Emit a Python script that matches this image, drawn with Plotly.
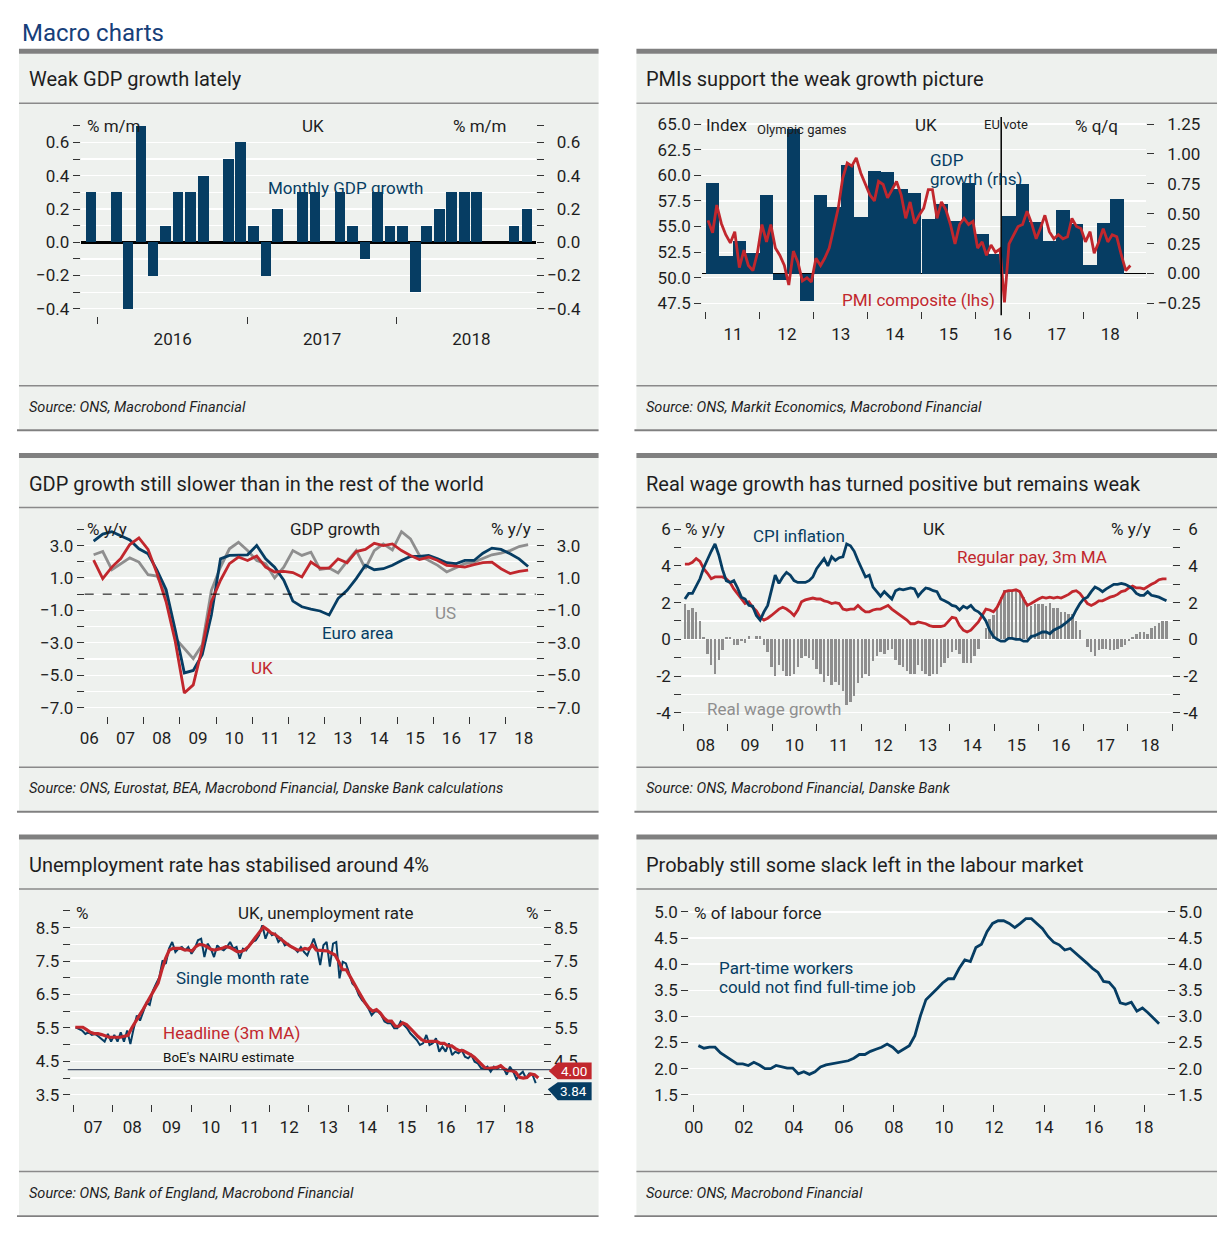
import pandas as pd
import plotly.graph_objects as go

# Reference canvas is 1229x1240; the page keeps the browser's default 8px body margin,
# so the figure itself is 16px smaller and all reference pixel positions shift by 8.
PAGE_W, PAGE_H = 1229, 1240
OFF = 8
W, H = PAGE_W - 2 * OFF, PAGE_H - 2 * OFF
FONT = "Roboto"
NAVY = "#063d63"
RED = "#c1272d"
GREY = "#8e8e8e"
BG = "#eef1ee"
FRAME = "#808080"
TXT = "#1e1e1e"
DAY_MS = 86400000

# ---------------- Panel 1: monthly GDP ----------------
gdp_mm_first_month = "2015-12-01"
gdp_mm = [0.3, 0.0, 0.3, -0.4, 0.7, -0.2, 0.1, 0.3, 0.3, 0.4, 0.0, 0.5,
          0.6, 0.1, -0.2, 0.2, 0.0, 0.3, 0.3, 0.0, 0.3, 0.1, -0.1, 0.3,
          0.1, 0.1, -0.3, 0.1, 0.2, 0.3, 0.3, 0.3, 0.0, 0.0, 0.1, 0.2]

# ---------------- Panel 2: PMI and GDP q/q ----------------
gdp_qq_first_quarter = "2011-01-01"
gdp_qq = [0.76, 0.15, 0.27, 0.17, 0.66, -0.05, 1.21, -0.23, 0.66, 0.56, 0.91, 0.47,
          0.86, 0.85, 0.71, 0.67, 0.46, 0.58, 0.44, 0.76, 0.33, 0.16, 0.48, 0.75,
          0.43, 0.27, 0.53, 0.41, 0.07, 0.42, 0.62]
pmi_first_month = "2011-01-01"
pmi_composite = [55.6, 54.4, 57.1, 55.3, 54.2, 53.4, 54.5, 51.0, 52.7, 51.2, 50.7, 52.4,
                 55.2, 53.5, 55.2, 52.9, 52.2, 51.2, 49.3, 52.6, 51.5, 49.7, 50.0, 49.6,
                 51.9, 51.2, 51.9, 52.9, 54.8, 56.8, 59.7, 61.2, 60.9, 61.7, 60.2, 59.1,
                 58.1, 57.5, 59.4, 59.1, 57.8, 58.6, 59.4, 58.1, 55.8, 57.4, 55.3, 56.1,
                 56.8, 58.6, 58.6, 55.8, 57.4, 56.6, 55.2, 53.3, 55.2, 55.8, 55.2, 55.5,
                 52.9, 53.5, 52.2, 53.2, 52.5, 52.8, 47.6, 53.3, 54.2, 55.0, 55.2, 56.5,
                 55.3, 53.8, 54.8, 56.1, 54.5, 53.8, 54.2, 53.8, 54.0, 55.8, 55.0, 54.8,
                 53.5, 54.5, 52.4, 53.5, 54.8, 53.5, 54.2, 54.0, 52.2, 50.7, 51.2]
eu_vote_date = "2016-06-23"

# ---------------- Panel 3: GDP y/y ----------------
gdp_yy_first_quarter = "2006-07-01"
gdp_yy_uk = [2.1, 0.96, 1.67, 2.2, 3.06, 3.47, 2.76, 1.27, -0.47, -2.9, -6.1, -5.6,
             -3.3, -0.47, 0.86, 1.88, 2.29, 2.08, 2.35, 1.67, 1.37, 1.41, 1.33, 1.06,
             1.98, 1.61, 1.61, 2.18, 1.94, 2.63, 2.76, 3.14, 3.0, 3.1, 2.69, 2.39,
             2.14, 2.29, 2.08, 1.78, 1.73, 1.67, 1.82, 1.94, 1.98, 1.57, 1.27, 1.41, 1.49]
gdp_yy_ea = [3.27, 3.71, 3.86, 3.61, 3.35, 2.8, 2.49, 1.47, 0.29, -2.2, -4.86, -4.71,
             -3.73, -1.29, 2.18, 2.39, 2.43, 2.43, 3.0, 2.18, 1.67, 0.86, -0.43, -0.78,
             -0.92, -1.04, -1.29, -0.27, 0.24, 0.96, 1.78, 1.51, 1.57, 1.78, 2.08, 2.33,
             2.33, 2.39, 2.18, 1.94, 1.88, 2.08, 2.08, 2.53, 2.84, 2.76, 2.49, 2.18, 1.71]
gdp_yy_us = [2.43, 2.63, 1.51, 1.88, 2.24, 1.98, 1.2, 1.12, 0.04, -2.71, -3.33, -3.98,
             -3.12, 0.24, 1.67, 2.8, 3.2, 2.69, 2.08, 1.88, 1.0, 1.67, 2.69, 2.39,
             2.59, 1.53, 1.61, 1.31, 2.02, 2.69, 1.57, 2.69, 3.1, 2.73, 3.86, 3.41,
             2.39, 2.08, 1.78, 1.37, 1.61, 1.88, 1.98, 2.2, 2.43, 2.53, 2.69, 2.94, 3.06]

# ---------------- Panel 4: wages and inflation ----------------
wage_first, wage_last = "2008-01-15", "2018-11-15"
cpi_inflation = [2.2, 2.5, 2.5, 2.9, 3.3, 3.9, 4.4, 4.8, 5.2, 4.6,
                 3.8, 3.2, 3.1, 3.2, 2.8, 2.3, 2.2, 1.85, 1.8, 1.3,
                 1.05, 1.5, 1.85, 2.75, 3.5, 3.05, 3.4, 3.65, 3.5, 3.2,
                 3.1, 3.1, 3.1, 3.2, 3.4, 3.85, 4.1, 4.4, 4.0, 4.5,
                 4.3, 4.45, 4.5, 5.2, 5.1, 4.8, 4.3, 3.8, 3.4, 3.5,
                 2.85, 2.6, 2.35, 2.6, 2.4, 2.2, 2.65, 2.75, 2.7, 2.75,
                 2.8, 2.75, 2.35, 2.6, 2.8, 2.75, 2.65, 2.6, 2.2, 2.1,
                 2.0, 1.85, 1.8, 1.6, 1.8, 1.7, 1.85, 1.6, 1.5, 1.3,
                 1.0, 0.5, 0.15, 0.0, -0.1, -0.1, 0.05, 0.05, 0.0, 0.0,
                 -0.1, -0.1, 0.15, 0.2, 0.3, 0.4, 0.4, 0.3, 0.5, 0.6,
                 0.7, 0.85, 1.0, 1.2, 1.6, 1.95, 2.2, 2.3, 2.6, 2.85,
                 2.75, 2.6, 2.75, 2.9, 3.0, 3.0, 3.05, 3.0, 2.9, 2.75,
                 2.5, 2.4, 2.4, 2.6, 2.4, 2.35, 2.3, 2.2, 2.1]
regular_pay_3m = [4.1, 4.1, 4.2, 4.4, 4.25, 3.85, 3.6, 3.3, 3.4, 3.4,
                  3.4, 3.3, 3.1, 2.75, 2.5, 2.2, 1.95, 2.05, 1.75, 1.55,
                  1.2, 1.05, 1.15, 1.3, 1.5, 1.65, 1.75, 1.65, 1.5, 1.3,
                  1.6, 2.05, 2.15, 2.2, 2.25, 2.2, 2.2, 2.1, 2.05, 1.95,
                  2.0, 1.95, 1.65, 1.6, 1.65, 1.65, 1.85, 1.65, 1.5, 1.5,
                  1.6, 1.65, 1.65, 1.75, 1.85, 1.65, 1.5, 1.3, 1.2, 1.05,
                  0.85, 0.85, 0.95, 0.9, 0.85, 0.75, 0.7, 0.7, 0.7, 0.75,
                  0.95, 1.2, 1.15, 0.75, 0.5, 0.4, 0.5, 0.7, 0.95, 1.3,
                  1.65, 1.6, 1.5, 1.75, 2.2, 2.6, 2.65, 2.65, 2.7, 2.6,
                  2.2, 1.85, 1.95, 2.1, 2.2, 2.3, 2.25, 2.3, 2.25, 2.3,
                  2.25, 2.35, 2.45, 2.6, 2.65, 2.5, 2.2, 1.95, 1.85, 1.95,
                  2.1, 2.1, 2.2, 2.3, 2.35, 2.45, 2.6, 2.65, 2.8, 2.9,
                  2.8, 2.8, 2.75, 2.9, 3.0, 3.1, 3.25, 3.3, 3.3]
real_wage_growth = [1.9, 1.6, 1.7, 1.5, 1.0, 0.1, -0.8, -1.4, -1.9, -1.1,
                    -0.6, 0.1, 0.1, -0.3, -0.3, -0.1, -0.2, 0.2, 0.0, 0.2,
                    0.2, -0.3, -0.7, -1.5, -2.0, -1.4, -1.7, -2.0, -2.0, -1.9,
                    -1.5, -1.0, -0.9, -1.0, -1.1, -1.6, -1.9, -2.3, -2.0, -2.5,
                    -2.3, -2.5, -2.8, -3.6, -3.4, -3.1, -2.4, -2.1, -1.9, -2.0,
                    -1.2, -0.9, -0.7, -0.8, -0.6, -0.5, -1.1, -1.4, -1.5, -1.7,
                    -1.9, -1.9, -1.4, -1.7, -1.9, -2.0, -1.9, -1.9, -1.5, -1.3,
                    -1.0, -0.7, -0.6, -0.8, -1.3, -1.3, -1.3, -0.9, -0.5, 0.0,
                    0.6, 1.1, 1.3, 1.7, 2.3, 2.7, 2.6, 2.6, 2.7, 2.6,
                    2.3, 1.9, 1.8, 1.9, 1.9, 1.9, 1.8, 2.0, 1.7, 1.7,
                    1.5, 1.5, 1.4, 1.4, 1.0, 0.5, 0.0, -0.4, -0.7, -0.9,
                    -0.6, -0.5, -0.5, -0.6, -0.6, -0.5, -0.4, -0.3, -0.1, 0.1,
                    0.3, 0.4, 0.4, 0.3, 0.6, 0.7, 0.9, 1.0, 1.0]

# ---------------- Panel 5: unemployment ----------------
single_first, single_last = "2007-01-22", "2018-10-15"
unemp_single_month = [5.52, 5.47, 5.42, 5.32, 5.37, 5.29, 5.32, 5.25, 5.17, 5.09,
                      5.32, 5.09, 5.29, 5.09, 5.37, 5.09, 5.42, 5.02, 5.47, 5.87,
                      5.72, 6.02, 6.25, 6.19, 6.62, 6.82, 7.02, 7.52, 7.42, 7.87,
                      8.07, 7.77, 7.87, 7.92, 7.82, 7.92, 7.72, 7.87, 8.12, 8.17,
                      7.62, 8.02, 7.87, 7.62, 7.97, 7.87, 7.82, 7.92, 8.07, 7.87,
                      7.92, 7.57, 7.87, 7.82, 7.97, 8.07, 8.12, 8.27, 8.57, 8.17,
                      8.42, 8.27, 8.32, 8.07, 8.17, 7.97, 8.02, 7.92, 7.87, 7.77,
                      7.92, 7.77, 7.67, 7.92, 8.17, 7.87,
                      7.38, 7.97, 8.07, 7.33, 8.02, 8.07, 6.98, 7.48, 7.43, 7.13,
                      6.83, 6.73, 6.48, 6.33, 6.23, 6.08, 5.88, 5.99, 5.99, 5.88,
                      5.69, 5.64, 5.64, 5.49, 5.49, 5.69, 5.59, 5.49, 5.34, 5.24,
                      5.14, 4.99, 5.04, 5.29, 4.99, 5.04, 5.19, 4.79, 4.94, 4.79,
                      5.04, 4.69, 4.79, 4.74, 4.84, 4.64, 4.59, 4.69, 4.49, 4.44,
                      4.30, 4.28, 4.34, 4.19, 4.34, 4.28, 4.34, 4.30, 4.10, 4.34,
                      4.19, 3.97, 4.10, 4.19, 3.99, 4.14, 4.10, 3.85]
headline_first, headline_last = "2007-01-18", "2018-11-08"
unemp_headline = [5.52, 5.52, 5.52, 5.45, 5.37, 5.33, 5.33, 5.30, 5.25, 5.22,
                  5.22, 5.22, 5.22, 5.25, 5.28, 5.50, 5.70, 5.87, 6.05, 6.25,
                  6.47, 6.64, 6.84, 7.24, 7.58, 7.83, 7.88, 7.88, 7.88, 7.83,
                  7.83, 7.80, 7.93, 8.00, 7.98, 7.93, 7.85, 7.83, 7.85, 7.88,
                  7.93, 7.91, 7.85, 7.78, 7.78, 7.83, 7.93, 8.08, 8.23, 8.38,
                  8.52, 8.44, 8.34, 8.30, 8.20, 8.12, 8.03, 7.95, 7.88, 7.83,
                  7.83, 7.88, 7.85, 7.98, 7.83, 7.83, 7.81, 7.80, 7.73, 7.68,
                  7.48, 7.24, 7.24, 7.02, 6.84, 6.64, 6.44, 6.25, 6.10, 6.00,
                  6.05, 5.95, 5.80, 5.70, 5.70, 5.55, 5.55, 5.65, 5.60, 5.47,
                  5.37, 5.25, 5.15, 5.10, 5.10, 5.10, 5.10, 5.04, 5.04, 4.96,
                  4.96, 4.88, 4.82, 4.82, 4.77, 4.70, 4.62, 4.52, 4.39, 4.29,
                  4.29, 4.30, 4.32, 4.37, 4.27, 4.22, 4.22, 4.17, 4.02, 4.00,
                  4.02, 4.12, 4.10, 4.00]
nairu_estimate = 4.25
latest_headline = 4.00
latest_single = 3.84

# ---------------- Panel 6: underemployment ----------------
under_first, under_last = "2000-03-08", "2018-08-08"
part_time_underemp = [2.44, 2.39, 2.41, 2.41, 2.30, 2.23, 2.15, 2.09, 2.09, 2.06,
                      2.12, 2.07, 2.00, 2.00, 2.06, 2.03, 2.01, 2.01, 1.90, 1.94,
                      1.89, 1.94, 2.03, 2.07, 2.09, 2.12, 2.13, 2.15, 2.20, 2.27,
                      2.27, 2.33, 2.37, 2.41, 2.47, 2.41, 2.31, 2.37, 2.44, 2.63,
                      3.01, 3.32, 3.42, 3.53, 3.64, 3.72, 3.72, 3.92, 4.08, 4.05,
                      4.32, 4.38, 4.62, 4.78, 4.83, 4.83, 4.78, 4.70, 4.78, 4.87,
                      4.87, 4.78, 4.68, 4.53, 4.42, 4.37, 4.27, 4.30, 4.21, 4.11,
                      4.02, 3.92, 3.84, 3.67, 3.65, 3.53, 3.26, 3.23, 3.27, 3.10,
                      3.16, 3.07, 2.97, 2.86]

# ---------------- helpers ----------------
def px(x):
    return (x - OFF) / W


def py(y):
    return 1 - (y - OFF) / H


MINUS = "\u2212"
FIG_SP = "\u2007"


def fmt(v, nd, minus=MINUS):
    s = f"{abs(v):.{nd}f}"
    return (minus if v < 0 else "") + s


def left_labels(vals, nd, minus=MINUS):
    return [fmt(v, nd, minus) for v in vals]


def right_labels(vals, nd, minus=MINUS, pad=FIG_SP, hidden=()):
    has_neg = any(v < 0 for v in vals)
    out = []
    for v in vals:
        s = fmt(v, nd, minus)
        if has_neg and v >= 0:
            s = pad + s
        out.append("" if v in hidden else s)
    return out


shapes = []
annotations = []


def text(t, x, y, size=17, color=TXT, xanchor="left", yanchor="middle"):
    annotations.append(dict(text=t, x=px(x), y=py(y), xref="paper", yref="paper",
                            xanchor=xanchor, yanchor=yanchor, showarrow=False,
                            font=dict(family=FONT, size=size, color=color)))


def rect(x0, y0, x1, y1, color):
    shapes.append(dict(type="rect", xref="paper", yref="paper", x0=px(x0), x1=px(x1),
                       y0=py(y1), y1=py(y0), fillcolor=color, line=dict(width=0),
                       layer="below"))


def hline(x0, x1, y, color="#8a8a8a", width=1.5):
    shapes.append(dict(type="line", xref="paper", yref="paper", x0=px(x0), x1=px(x1),
                       y0=py(y), y1=py(y), line=dict(color=color, width=width),
                       layer="below"))


def frame(x0, x1, top, sep1, sep2, bottom, title, source):
    rect(x0, top + 5, x1, bottom, BG)
    rect(x0, top, x1, top + 5, FRAME)
    hline(x0, x1, sep1)
    hline(x0, x1, sep2)
    rect(x0 - 2, bottom, x1, bottom + 2, FRAME)
    text(title, x0 + 8, (top + 5 + sep1) / 2 + 1, size=20)
    text("<i>" + source + "</i>", x0 + 8, (sep2 + bottom) / 2, size=14.5)


TICKFONT = dict(family=FONT, size=17, color=TXT)


def xaxis(x0, x1, rng, anchor, fmt_="%y", dtick="M12", mode="period", tick0="2000-01-01"):
    return dict(domain=[px(x0), px(x1)], range=rng, type="date", anchor=anchor,
                showgrid=False, zeroline=False, showline=False, ticks="outside",
                ticklen=7, tickwidth=1, tickcolor="#333333", dtick=dtick, tick0=tick0,
                ticklabelmode=mode, tickformat=fmt_, tickfont=TICKFONT, fixedrange=True)


def yaxis(top, bot, rng, anchor, side, tickvals, ticktext, minor_vals=None,
          grid=True, overlaying=None, zeroline=False, zwidth=2):
    d = dict(domain=[py(bot), py(top)], range=rng, anchor=anchor, side=side,
             tickmode="array", tickvals=tickvals, ticktext=ticktext,
             ticks="outside", ticklen=7, tickwidth=1, tickcolor="#333333",
             tickfont=TICKFONT, showline=False, showgrid=grid, gridcolor="white",
             gridwidth=1.3, zeroline=zeroline, zerolinecolor="black",
             zerolinewidth=zwidth, fixedrange=True)
    if minor_vals:
        d["minor"] = dict(tickmode="array", tickvals=minor_vals, ticks="outside",
                          ticklen=7, tickwidth=1, tickcolor="#333333",
                          showgrid=grid, gridcolor="white", gridwidth=1.3)
    if overlaying:
        d["overlaying"] = overlaying
    return d


fig = go.Figure()
layout = {}


def ghost(x, y, xa, ya):
    # invisible copy of a panel's series so that its right-hand axis gets drawn
    fig.add_trace(go.Scatter(x=x, y=y, mode="lines", line=dict(width=0, color="rgba(0,0,0,0)"),
                             opacity=0, hoverinfo="skip", xaxis=xa, yaxis=ya))


# row geometry (reference pixels)
LX0, LX1, RX0, RX1 = 14, 596, 634, 1217
rows = [(40, 95, 380, 424), (448, 503, 765, 809), (833, 888, 1173, 1217)]

frame(LX0, LX1, *rows[0], "Weak GDP growth lately", "Source: ONS, Macrobond Financial")
frame(RX0, RX1, *rows[0], "PMIs support the weak growth picture",
      "Source: ONS, Markit Economics, Macrobond Financial")
frame(LX0, LX1, *rows[1], "GDP growth still slower than in the rest of the world",
      "Source: ONS, Eurostat, BEA, Macrobond Financial, Danske Bank calculations")
frame(RX0, RX1, *rows[1], "Real wage growth has turned positive but remains weak",
      "Source: ONS, Macrobond Financial, Danske Bank")
frame(LX0, LX1, *rows[2], "Unemployment rate has stabilised around 4%",
      "Source: ONS, Bank of England, Macrobond Financial")
frame(RX0, RX1, *rows[2], "Probably still some slack left in the labour market",
      "Source: ONS, Macrobond Financial")

text("Macro charts", 15, OFF, size=24, color="#17407a", yanchor="top")

# ---------------- Panel 1 ----------------
d1 = pd.date_range(gdp_mm_first_month, periods=len(gdp_mm), freq="MS") + pd.Timedelta(days=14)
fig.add_trace(go.Bar(x=d1, y=gdp_mm, width=26 * DAY_MS, marker=dict(color=NAVY, line=dict(width=0)),
                     xaxis="x", yaxis="y"))
ghost(d1, gdp_mm, "x", "y2")
t1 = [-0.4, -0.2, 0.0, 0.2, 0.4, 0.6]
m1 = [-0.3, -0.1, 0.1, 0.3, 0.5, 0.7]
r1 = [-0.445, 0.705]
layout["xaxis"] = xaxis(76, 533, ["2015-11-20", "2018-12-07"], "y", fmt_="%Y", tick0="2016-01-01")
layout["yaxis"] = yaxis(117, 310, r1, "x", "left", t1, left_labels(t1, 1), m1,
                        zeroline=True, zwidth=2.5)
layout["yaxis2"] = yaxis(117, 310, r1, "x", "right", t1, right_labels(t1, 1), m1,
                         grid=False, overlaying="y")
text("% m/m", 80, 118)
text("UK", 309, 118, xanchor="center")
text("% m/m", 506, 118, xanchor="right")
text("Monthly GDP growth", 262, 181, color=NAVY)

# ---------------- Panel 2 ----------------
d2q = pd.date_range(gdp_qq_first_quarter, periods=len(gdp_qq), freq="QS") + pd.Timedelta(days=45)
d2m = pd.date_range(pmi_first_month, periods=len(pmi_composite), freq="MS") + pd.Timedelta(days=14)
fig.add_trace(go.Bar(x=d2q, y=gdp_qq, width=91 * DAY_MS, marker=dict(color=NAVY, line=dict(width=0)),
                     xaxis="x2", yaxis="y3"))
fig.add_trace(go.Scatter(x=d2m, y=pmi_composite, mode="lines", line=dict(color=RED, width=2.8),
                         xaxis="x2", yaxis="y4"))
t2r = [-0.25, 0.0, 0.25, 0.5, 0.75, 1.0, 1.25]
t2l = [47.5, 50.0, 52.5, 55.0, 57.5, 60.0, 62.5, 65.0]
layout["xaxis2"] = xaxis(700, 1146, ["2010-12-06", "2019-03-03"], "y3")
layout["yaxis3"] = yaxis(108, 305, [-0.316, 1.316], "x2", "right", t2r, right_labels(t2r, 2),
                         grid=False, zeroline=True, zwidth=1.5)
layout["yaxis4"] = yaxis(108, 305, [46.73, 65.77], "x2", "left", t2l, left_labels(t2l, 1),
                         grid=True, overlaying="y3")
shapes.append(dict(type="line", xref="x2", yref="paper", x0=eu_vote_date, x1=eu_vote_date,
                   y0=py(309), y1=py(109), line=dict(color="black", width=1.5)))
text("Index", 702, 117)
text("Olympic games", 753, 122, size=13)
text("UK", 925, 117, xanchor="center")
text("EU vote", 981, 116, size=13)
text("% q/q", 1120, 118, xanchor="right")
text("GDP", 927, 152, color=NAVY)
text("growth (rhs)", 927, 171, color=NAVY)
text("PMI composite (lhs)", 838, 294, color=RED)

# ---------------- Panel 3 ----------------
d3 = pd.date_range(gdp_yy_first_quarter, periods=len(gdp_yy_uk), freq="QS") + pd.Timedelta(days=45)
fig.add_trace(go.Scatter(x=d3, y=gdp_yy_us, mode="lines", line=dict(color=GREY, width=2.8),
                         xaxis="x3", yaxis="y5"))
fig.add_trace(go.Scatter(x=d3, y=gdp_yy_ea, mode="lines", line=dict(color=NAVY, width=2.8),
                         xaxis="x3", yaxis="y5"))
fig.add_trace(go.Scatter(x=d3, y=gdp_yy_uk, mode="lines", line=dict(color=RED, width=2.8),
                         xaxis="x3", yaxis="y5"))
ghost(d3, gdp_yy_uk, "x3", "y6")
t3 = [-7.0, -5.0, -3.0, -1.0, 1.0, 3.0]
m3 = [-6.0, -4.0, -2.0, 0.0, 2.0, 4.0]
r3 = [-7.5, 4.0]
layout["xaxis3"] = xaxis(80, 533, ["2006-05-17", "2018-11-01"], "y5")
layout["yaxis5"] = yaxis(525, 713, r3, "x3", "left", t3, left_labels(t3, 1), m3)
layout["yaxis6"] = yaxis(525, 713, r3, "x3", "right", t3, right_labels(t3, 1), m3,
                         grid=False, overlaying="y5")
shapes.append(dict(type="line", xref="x3 domain", yref="y5", x0=0, x1=1, y0=0, y1=0,
                   line=dict(color="black", width=1, dash="dash")))
text("% y/y", 80, 525)
text("GDP growth", 331, 525, xanchor="center")
text("% y/y", 530, 525, xanchor="right")
text("US", 430, 609, color=GREY)
text("Euro area", 316, 630, color=NAVY)
text("UK", 245, 665, color=RED)

# ---------------- Panel 4 ----------------
d4 = pd.date_range(wage_first, wage_last, periods=len(cpi_inflation))
fig.add_trace(go.Bar(x=d4, y=real_wage_growth, width=20 * DAY_MS,
                     marker=dict(color=GREY, line=dict(width=0)), xaxis="x4", yaxis="y7"))
fig.add_trace(go.Scatter(x=d4, y=regular_pay_3m, mode="lines", line=dict(color=RED, width=2.8),
                         xaxis="x4", yaxis="y7"))
fig.add_trace(go.Scatter(x=d4, y=cpi_inflation, mode="lines", line=dict(color=NAVY, width=2.8),
                         xaxis="x4", yaxis="y7"))
ghost(d4, cpi_inflation, "x4", "y8")
t4 = [-4, -2, 0, 2, 4, 6]
m4 = [-3, -1, 1, 3, 5]
r4 = [-4.54, 6.05]
layout["xaxis4"] = xaxis(680, 1172, ["2007-12-24", "2019-01-01"], "y7")
layout["yaxis7"] = yaxis(524, 720, r4, "x4", "left", t4, left_labels(t4, 0, "-"), m4)
layout["yaxis8"] = yaxis(524, 720, r4, "x4", "right", t4, right_labels(t4, 0, "-", "\u2008"), m4,
                         grid=False, overlaying="y7")
text("% y/y", 681, 525)
text("CPI inflation", 749, 532, color=NAVY)
text("UK", 933, 525, xanchor="center")
text("% y/y", 1153, 525, xanchor="right")
text("Regular pay, 3m MA", 954, 553, color=RED)
text("Real wage growth", 703, 706, color=GREY)

# ---------------- Panel 5 ----------------
d5a = pd.date_range(single_first, single_last, periods=len(unemp_single_month))
d5b = pd.date_range(headline_first, headline_last, periods=len(unemp_headline))
fig.add_trace(go.Scatter(x=d5a, y=unemp_single_month, mode="lines", line=dict(color=NAVY, width=2),
                         xaxis="x5", yaxis="y9"))
fig.add_trace(go.Scatter(x=d5b, y=unemp_headline, mode="lines", line=dict(color=RED, width=3.2),
                         xaxis="x5", yaxis="y9"))
ghost(d5b, unemp_headline, "x5", "y10")
t5 = [3.5, 4.5, 5.5, 6.5, 7.5, 8.5]
m5 = [4.0, 5.0, 6.0, 7.0, 8.0, 9.0]
r5 = [3.22, 9.0]
layout["xaxis5"] = xaxis(66, 540, ["2006-12-07", "2018-12-20"], "y9")
layout["yaxis9"] = yaxis(910, 1105, r5, "x5", "left", t5, left_labels(t5, 1), m5)
# the lowest right-hand label sits under the latest-value badge, as in the original
layout["yaxis10"] = yaxis(910, 1105, r5, "x5", "right", t5,
                          right_labels(t5, 1, hidden=(3.5,)), m5,
                          grid=False, overlaying="y9")
shapes.append(dict(type="line", xref="paper", yref="y9", x0=px(63), x1=px(548),
                   y0=nairu_estimate, y1=nairu_estimate, line=dict(color="#1c2a45", width=1)))
# value badges
shapes.append(dict(type="path", xref="paper", yref="paper",
                   path=f"M {px(546)} {py(1071.5)} L {px(555)} {py(1063)} L {px(589)} {py(1063)} "
                        f"L {px(589)} {py(1080)} L {px(555)} {py(1080)} Z",
                   fillcolor=RED, line=dict(width=0)))
shapes.append(dict(type="path", xref="paper", yref="paper",
                   path=f"M {px(545)} {py(1090)} L {px(555)} {py(1083)} L {px(589)} {py(1083)} "
                        f"L {px(589)} {py(1101)} L {px(555)} {py(1101)} Z",
                   fillcolor=NAVY, line=dict(width=0)))
text(f"{latest_headline:.2f}", 571, 1071.5, size=13.5, color="white", xanchor="center")
text(f"{latest_single:.2f}", 571, 1092, size=13.5, color="white", xanchor="center")
text("%", 69, 912)
text("UK, unemployment rate", 322, 912, xanchor="center")
text("%", 537, 912, xanchor="right")
text("Single month rate", 170, 978, color=NAVY)
text("Headline (3m MA)", 157, 1033, color=RED)
text("BoE's NAIRU estimate", 157, 1057, size=13.5, color="#111111")

# ---------------- Panel 6 ----------------
d6 = pd.date_range(under_first, under_last, periods=len(part_time_underemp))
fig.add_trace(go.Scatter(x=d6, y=part_time_underemp, mode="lines", line=dict(color=NAVY, width=2.8),
                         xaxis="x6", yaxis="y11"))
ghost(d6, part_time_underemp, "x6", "y12")
t6 = [1.5, 2.0, 2.5, 3.0, 3.5, 4.0, 4.5, 5.0]
r6 = [1.32, 5.057]
layout["xaxis6"] = xaxis(687, 1167, ["1999-10-26", "2018-12-05"], "y11", dtick="M24",
                         mode="instant")
layout["yaxis11"] = yaxis(908, 1105, r6, "x6", "left", t6, left_labels(t6, 1))
layout["yaxis12"] = yaxis(908, 1105, r6, "x6", "right", t6, right_labels(t6, 1),
                          grid=False, overlaying="y11")
text("% of labour force", 690, 912)
text("Part-time workers", 715, 968, color=NAVY)
text("could not find full-time job", 715, 987, color=NAVY)

fig.update_layout(
    width=W, height=H, autosize=False,
    margin=dict(l=0, r=0, t=0, b=0, pad=0),
    paper_bgcolor="white", plot_bgcolor=BG,
    showlegend=False, bargap=0,
    font=dict(family=FONT, color=TXT),
    shapes=shapes, annotations=annotations,
    **layout,
)

fig.write_html("out.html", config={"displayModeBar": False, "staticPlot": True})
